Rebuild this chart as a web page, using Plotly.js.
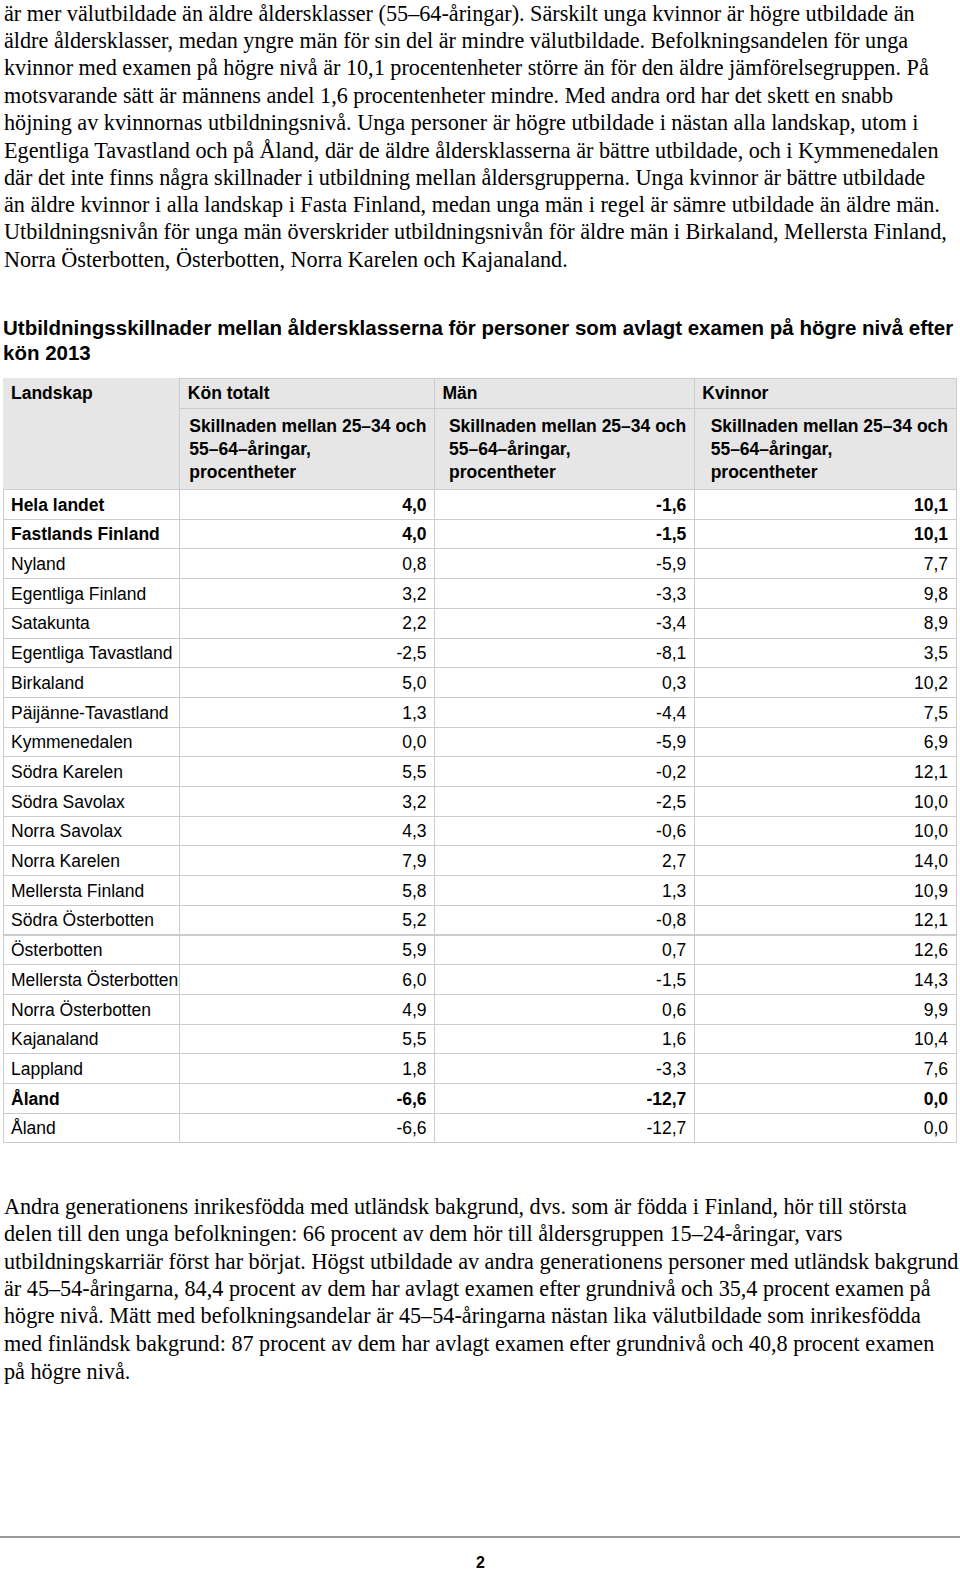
<!DOCTYPE html>
<html>
<head>
<meta charset="utf-8">
<script src="https://cdn.plot.ly/plotly-3.0.1.min.js"></script>
<style>html,body{margin:0;padding:0;background:#fff;}#chart{width:960px;height:1572px;}</style>
</head>
<body>
<div id="chart"></div>
<script>
// ---- Data ----
var tableTitle = ["Utbildningsskillnader mellan åldersklasserna för personer som avlagt examen på högre nivå efter", "kön 2013"];
var headerLandskap = "Landskap";
var headerGroups = ["Kön totalt", "Män", "Kvinnor"];
var subHeader = "Skillnaden mellan 25–34 och<br>55–64–åringar,<br>procentheter";
var regions = ["Hela landet","Fastlands Finland","Nyland","Egentliga Finland","Satakunta","Egentliga Tavastland","Birkaland","Päijänne-Tavastland","Kymmenedalen","Södra Karelen","Södra Savolax","Norra Savolax","Norra Karelen","Mellersta Finland","Södra Österbotten","Österbotten","Mellersta Österbotten","Norra Österbotten","Kajanaland","Lappland","Åland","Åland"];
var totalDiff = [4.0,4.0,0.8,3.2,2.2,-2.5,5.0,1.3,0.0,5.5,3.2,4.3,7.9,5.8,5.2,5.9,6.0,4.9,5.5,1.8,-6.6,-6.6];
var menDiff = [-1.6,-1.5,-5.9,-3.3,-3.4,-8.1,0.3,-4.4,-5.9,-0.2,-2.5,-0.6,2.7,1.3,-0.8,0.7,-1.5,0.6,1.6,-3.3,-12.7,-12.7];
var womenDiff = [10.1,10.1,7.7,9.8,8.9,3.5,10.2,7.5,6.9,12.1,10.0,10.0,14.0,10.9,12.1,12.6,14.3,9.9,10.4,7.6,0.0,0.0];
var boldRows = [true,true,false,false,false,false,false,false,false,false,false,false,false,false,false,false,false,false,false,false,true,false];

var topText = [
"är mer välutbildade än äldre åldersklasser (55–64-åringar). Särskilt unga kvinnor är högre utbildade än",
"äldre åldersklasser, medan yngre män för sin del är mindre välutbildade. Befolkningsandelen för unga",
"kvinnor med examen på högre nivå är 10,1 procentenheter större än för den äldre jämförelsegruppen. På",
"motsvarande sätt är männens andel 1,6 procentenheter mindre. Med andra ord har det skett en snabb",
"höjning av kvinnornas utbildningsnivå. Unga personer är högre utbildade i nästan alla landskap, utom i",
"Egentliga Tavastland och på Åland, där de äldre åldersklasserna är bättre utbildade, och i Kymmenedalen",
"där det inte finns några skillnader i utbildning mellan åldersgrupperna. Unga kvinnor är bättre utbildade",
"än äldre kvinnor i alla landskap i Fasta Finland, medan unga män i regel är sämre utbildade än äldre män.",
"Utbildningsnivån för unga män överskrider utbildningsnivån för äldre män i Birkaland, Mellersta Finland,",
"Norra Österbotten, Österbotten, Norra Karelen och Kajanaland."
];
var bottomText = [
"Andra generationens inrikesfödda med utländsk bakgrund, dvs. som är födda i Finland, hör till största",
"delen till den unga befolkningen: 66 procent av dem hör till åldersgruppen 15–24-åringar, vars",
"utbildningskarriär först har börjat. Högst utbildade av andra generationens personer med utländsk bakgrund",
"är 45–54-åringarna, 84,4 procent av dem har avlagt examen efter grundnivå och 35,4 procent examen på",
"högre nivå. Mätt med befolkningsandelar är 45–54-åringarna nästan lika välutbildade som inrikesfödda",
"med finländsk bakgrund: 87 procent av dem har avlagt examen efter grundnivå och 40,8 procent examen",
"på högre nivå."
];
var pageNumber = "2";

// ---- Helpers ----
var W = 960, H = 1572;
function fy(px){ return 1 - px / H; }
function fx(px){ return px / W; }
function fmt(v){ return v.toFixed(1).replace('.', ','); }
function nb(s){ return s.replace(/ /g, "\u00a0"); } // keep names on one line

var sans = "Liberation Sans, Arial, sans-serif";
var serif = "Liberation Serif, Times New Roman, serif";
var lineCol = "#cccccc";
var headFill = "#e6e6e6";
var white = "#ffffff";

var xL = 3, x1 = 180, x2 = 435, x3 = 695, xR = 957;
var yTop = 378;

var n = regions.length;
var col0 = [""].concat(regions.map(nb));
var col1 = [subHeader].concat(totalDiff.map(fmt));
var col2 = [subHeader].concat(menDiff.map(fmt));
var col3 = [subHeader].concat(womenDiff.map(fmt));

function colFill(){ var a = [headFill]; for (var i = 0; i < n; i++) a.push(white); return a; }
function colLine(first){ var a = [first]; for (var i = 0; i < n; i++) a.push(lineCol); return a; }
function colWeight(){ return ["bold"].concat(boldRows.map(function(x){ return x ? "bold" : "normal"; })); }

var traces = [{
  type: "table",
  domain: {x: [fx(xL), fx(xR)], y: [fy(1165), fy(yTop)]},
  columnwidth: [x1 - xL, x2 - x1, x3 - x2, xR - x3],
  header: {
    values: [[headerLandskap]].concat(headerGroups.map(function(g){ return [g]; })),
    height: 30,
    align: "left",
    fill: {color: headFill},
    line: {color: [headFill, lineCol, lineCol, lineCol], width: 1},
    font: {family: sans, size: 17.5, color: "#000", weight: "bold"}
  },
  cells: {
    values: [col0, col1, col2, col3],
    height: 29.7,
    align: ["left", "right", "right", "right"],
    fill: {color: [colFill(), colFill(), colFill(), colFill()]},
    line: {color: [colLine(headFill), colLine(lineCol), colLine(lineCol), colLine(lineCol)], width: 1},
    font: {family: sans, size: 17.5, color: "#000", weight: [colWeight(), colWeight(), colWeight(), colWeight()]}
  }
}];

var annotations = [];
var topY = [13, 40, 67, 95, 122, 150, 177, 205, 232, 260];
topText.forEach(function(t, i){
  annotations.push({xref: "paper", yref: "paper", x: fx(2), y: fy(topY[i]), xanchor: "left", yanchor: "middle",
    text: t, showarrow: false, align: "left", font: {family: serif, size: 22.2, color: "#000"}});
});
var botY = [1206, 1233, 1261, 1288, 1315, 1343, 1371];
bottomText.forEach(function(t, i){
  annotations.push({xref: "paper", yref: "paper", x: fx(2), y: fy(botY[i]), xanchor: "left", yanchor: "middle",
    text: t, showarrow: false, align: "left", font: {family: serif, size: 22.2, color: "#000"}});
});
var titleY = [327, 352];
tableTitle.forEach(function(t, i){
  annotations.push({xref: "paper", yref: "paper", x: fx(1), y: fy(titleY[i]), xanchor: "left", yanchor: "middle",
    text: "<b>" + t + "</b>", showarrow: false, align: "left", font: {family: sans, size: 20.5, color: "#000"}});
});
annotations.push({xref: "paper", yref: "paper", x: 0.5, y: fy(1562), xanchor: "center", yanchor: "middle",
  text: "<b>" + pageNumber + "</b>", showarrow: false, font: {family: sans, size: 16, color: "#000"}});

var layout = {
  width: W, height: H,
  margin: {l: 0, r: 0, t: 0, b: 0},
  paper_bgcolor: "#ffffff",
  showlegend: false,
  annotations: annotations,
  shapes: [{type: "line", xref: "paper", yref: "paper", x0: 0, x1: 1, y0: fy(1537), y1: fy(1537),
    line: {color: "#999999", width: 2}}]
};

Plotly.newPlot("chart", traces, layout, {displayModeBar: false, staticPlot: true});
</script>
</body>
</html>
